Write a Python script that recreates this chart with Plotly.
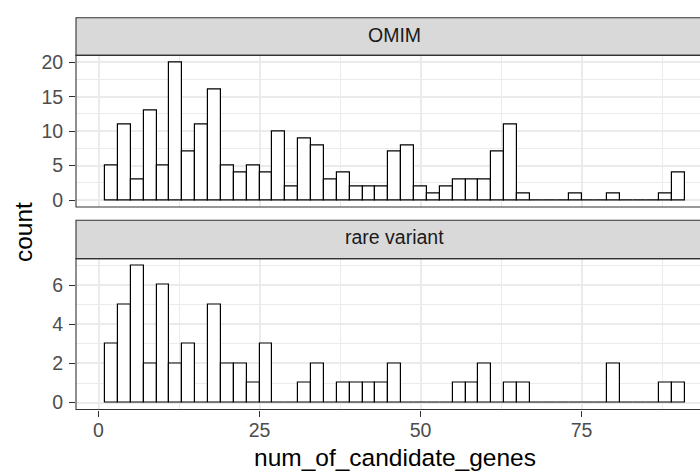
import numpy as np
import plotly.graph_objects as go

# Histogram breaks (binwidth 2, first break at 1) and counts per bin
bin_edges = np.arange(1, 92, 2)
omim_counts = [5, 11, 3, 13, 5, 20, 7, 11, 16, 5, 4, 5, 4, 10, 2, 9, 8, 3, 4, 2,
               2, 2, 7, 8, 2, 1, 2, 3, 3, 3, 7, 11, 1, 0, 0, 0, 1, 0, 0, 1,
               0, 0, 0, 1, 4]
rare_counts = [3, 5, 7, 2, 6, 2, 3, 0, 5, 2, 2, 1, 3, 0, 0, 1, 2, 0, 1, 1,
               1, 1, 2, 0, 0, 0, 0, 1, 1, 2, 0, 1, 1, 0, 0, 0, 0, 0, 0, 2,
               0, 0, 0, 1, 1]
facet_labels = ["OMIM", "rare variant"]
x_ticks = [0, 25, 50, 75]

bin_centers = (bin_edges[:-1] + bin_edges[1:]) / 2
bin_widths = np.diff(bin_edges)

W, H = 700, 472
FONT = "Liberation Sans, Arial, Helvetica, sans-serif"
GRID = "#EBEBEB"
DARK = "#333333"


def px_x(p):
    return p / W


def px_y(p):
    return 1 - p / H


# panel geometry in pixels (top, bottom)
x_left = 76
x_right_full = 713.7  # panel continues past the page edge
omim_top, omim_bot = 52.3, 206.5
rare_top, rare_bot = 259.0, 412.5
strips = [(14.0, omim_top), (220.0, rare_top)]

fig = go.Figure()

bar_style = dict(marker=dict(color="white", line=dict(color="black", width=1.2)),
                 showlegend=False, hoverinfo="x+y")

fig.add_trace(go.Bar(x=bin_centers, y=omim_counts, width=bin_widths,
                     xaxis="x", yaxis="y", **bar_style))
fig.add_trace(go.Bar(x=bin_centers, y=rare_counts, width=bin_widths,
                     xaxis="x2", yaxis="y2", **bar_style))

x_range = [-3.5, 93.4]
common_x = dict(range=x_range, domain=[px_x(x_left), 1], showgrid=True,
                gridcolor=GRID, gridwidth=1.8, zeroline=False, showline=False,
                tickmode="array", tickvals=x_ticks,
                minor=dict(tickmode="linear", tick0=0, dtick=12.5, showgrid=True,
                           gridcolor=GRID, gridwidth=0.9))
common_y = dict(showgrid=True, gridcolor=GRID, gridwidth=1.8, zeroline=False,
                showline=False, ticks="outside", ticklen=6, tickwidth=1.1,
                tickcolor=DARK, tickfont=dict(family=FONT, size=19.5, color="#4D4D4D"),
                ticklabelstandoff=2)

fig.update_layout(
    width=W, height=H,
    margin=dict(l=0, r=0, t=0, b=0),
    paper_bgcolor="white", plot_bgcolor="white",
    bargap=0,
    xaxis=dict(anchor="y", showticklabels=False, ticks="", matches="x2", **common_x),
    xaxis2=dict(anchor="y2", ticks="outside", ticklen=6, tickwidth=1.1,
                tickcolor=DARK, ticklabelstandoff=-3,
                tickfont=dict(family=FONT, size=19.5, color="#4D4D4D"), **common_x),
    yaxis=dict(anchor="x", domain=[px_y(omim_bot), px_y(omim_top)], range=[-1, 21],
               tickmode="linear", tick0=0, dtick=5,
               minor=dict(tickmode="linear", tick0=0, dtick=2.5, showgrid=True,
                          gridcolor=GRID, gridwidth=0.9),
               **common_y),
    yaxis2=dict(anchor="x2", domain=[px_y(rare_bot), px_y(rare_top)], range=[-0.35, 7.35],
                tickmode="linear", tick0=0, dtick=2,
                minor=dict(tickmode="linear", tick0=0, dtick=1, showgrid=True,
                           gridcolor=GRID, gridwidth=0.9),
                **common_y),
)

shapes = []
# facet strips
for (top, bot) in strips:
    shapes.append(dict(type="rect", xref="paper", yref="paper",
                       x0=px_x(x_left), x1=px_x(x_right_full),
                       y0=px_y(bot), y1=px_y(top),
                       fillcolor="#D9D9D9", line=dict(color=DARK, width=1.1),
                       layer="above"))
# panel borders
for (top, bot) in [(omim_top, omim_bot), (rare_top, rare_bot)]:
    shapes.append(dict(type="rect", xref="paper", yref="paper",
                       x0=px_x(x_left), x1=px_x(x_right_full),
                       y0=px_y(bot), y1=px_y(top),
                       fillcolor="rgba(0,0,0,0)", line=dict(color=DARK, width=1.1),
                       layer="above"))
fig.update_layout(shapes=shapes)

annotations = []
center_x = px_x((x_left + x_right_full) / 2)
for label, (top, bot) in zip(facet_labels, strips):
    annotations.append(dict(text=label, xref="paper", yref="paper",
                            x=center_x, y=px_y((top + bot) / 2 - 2),
                            xanchor="center", yanchor="middle", showarrow=False,
                            font=dict(family=FONT, size=19.5, color="#1A1A1A")))
annotations.append(dict(text="num_of_candidate_genes", xref="paper", yref="paper",
                        x=center_x, y=px_y(461.5), xanchor="center", yanchor="middle",
                        showarrow=False, font=dict(family=FONT, size=24.5, color="black")))
annotations.append(dict(text="count", xref="paper", yref="paper",
                        x=px_x(23), y=px_y(232), xanchor="center", yanchor="middle",
                        textangle=-90, showarrow=False,
                        font=dict(family=FONT, size=24.5, color="black")))
fig.update_layout(annotations=annotations)

fig.write_html("out.html")
